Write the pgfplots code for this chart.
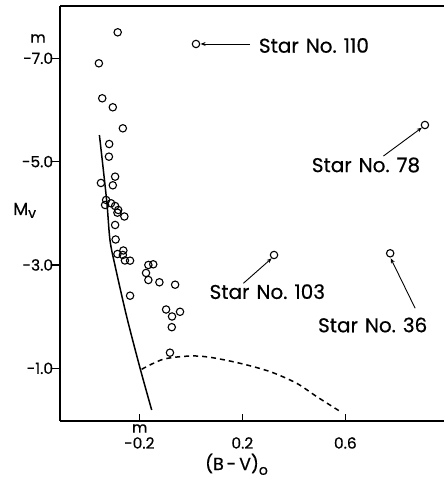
\documentclass[border=0pt]{standalone}
\usepackage{fontspec}
\setmainfont{Poppins}[FakeBold=0.5]
\usepackage{pgfplots}
\pgfplotsset{compat=1.18}
\usetikzlibrary{arrows.meta}
\begin{document}
\begin{tikzpicture}
\begin{axis}[
  at={(60bp,60bp)}, anchor=south west,
  scale only axis, width=384bp, height=415bp,
  xmin=-0.508, xmax=0.983, ymin=-8.012, ymax=0.02,
  y dir=reverse,
  axis x line*=bottom, axis y line*=left,
  axis line style={-, line width=1.1bp, black},
  xtick={-0.2,0.2,0.6}, xticklabels={-0.2,0.2,0.6},
  ytick={-7,-5,-3,-1}, yticklabels={-7.0,-5.0,-3.0,-1.0},
  tick align=inside, major tick length=7.5bp,
  tick style={line width=1.1bp, black},
  y tick style={xshift=-7.5bp},
  xtick pos=left, ytick pos=left,
  ticklabel style={font=\fontsize{15.5}{18}\selectfont, inner sep=0pt},
  yticklabel style={anchor=east, xshift=-6.7bp},
  xticklabel style={anchor=base, yshift=-27.6bp},
  clip=false,
]
\addplot[only marks, mark=o, mark size=3.7bp, mark options={line width=1.1bp, black}] coordinates {
(-0.284,-7.503) (-0.357,-6.903) (-0.344,-6.226) (-0.303,-6.052) (-0.264,-5.645)
(-0.317,-5.341) (-0.318,-5.096) (-0.294,-4.709) (-0.349,-4.587) (-0.303,-4.542)
(-0.329,-4.258) (-0.310,-4.194) (-0.333,-4.161) (-0.294,-4.141) (-0.282,-4.064)
(-0.285,-4.012) (-0.258,-3.938) (-0.294,-3.774) (-0.292,-3.493) (-0.262,-3.280)
(-0.285,-3.212) (-0.264,-3.193) (-0.256,-3.087) (-0.236,-3.083) (-0.165,-3.000)
(-0.146,-3.013) (-0.174,-2.845) (-0.165,-2.709) (-0.122,-2.665) (-0.061,-2.618)
(-0.236,-2.405) (-0.096,-2.138) (-0.042,-2.094) (-0.073,-2.003) (-0.074,-1.796)
(-0.081,-1.302)
(0.020,-7.277) (0.909,-5.709) (0.323,-3.193) (0.774,-3.226)
};
% ZAMS
\addplot[black, line width=1.5bp, smooth] coordinates {
(-0.355,-5.515) (-0.327,-4.258) (-0.314,-3.484) (-0.294,-2.981)
(-0.249,-1.999) (-0.197,-1.000) (-0.152,-0.193)
};
% dashed curve
\addplot[black, line width=1.5bp, smooth, dash pattern=on 5bp off 4bp] coordinates {
(-0.191,-0.981) (-0.107,-1.175) (-0.003,-1.238) (0.075,-1.213) (0.191,-1.097)
(0.308,-0.935) (0.411,-0.710) (0.489,-0.451) (0.577,-0.174)
};
% annotations
\tikzset{ann/.style={font=\fontsize{20}{22}\selectfont, inner sep=0pt},
         arr/.style={-{Stealth[length=5bp,width=4bp]}, line width=0.9bp}}
\node[ann] at (axis cs:0.478,-7.248) {Star\hspace{0.35em}No.\hspace{0.35em}110};
\draw[arr] (axis cs:0.230,-7.277) -- (axis cs:0.038,-7.277);
\node[ann] at (axis cs:0.680,-4.935) {Star\hspace{0.35em}No.\hspace{0.35em}78};
\draw[arr] (axis cs:0.748,-5.109) -- (axis cs:0.897,-5.657);
\node[ann] at (axis cs:0.297,-2.483) {Star\hspace{0.35em}No.\hspace{0.35em}103};
\draw[arr] (axis cs:0.204,-2.645) -- (axis cs:0.314,-3.129);
\node[ann] at (axis cs:0.706,-1.838) {Star\hspace{0.35em}No.\hspace{0.35em}36};
\draw[arr] (axis cs:0.871,-2.162) -- (axis cs:0.776,-3.129);
% top frame line
\draw[line width=1.1bp] (rel axis cs:0,1) -- (rel axis cs:1,1);
\end{axis}
% labels in picture coordinates (bp from bottom-left)
\node[font=\fontsize{15}{18}\selectfont, inner sep=0pt] at (38bp,442.5bp) {m};
\node[font=\fontsize{15}{18}\selectfont, inner sep=0pt] at (139.7bp,52.5bp) {m};
\node[font=\fontsize{17.5}{20}\selectfont, inner sep=0pt, anchor=base west] at (13bp,266bp) {M\raisebox{-0.3ex}{\fontsize{14}{15}\selectfont v}};
\node[font=\fontsize{17.5}{20}\selectfont, inner sep=0pt, anchor=base west] at (205bp,11bp) {(B\,-\,V)\raisebox{-0.5ex}{\fontsize{14}{15}\selectfont o}};
\pgfresetboundingbox
\useasboundingbox (0,0) rectangle (444bp,481bp);
\end{tikzpicture}
\end{document}
